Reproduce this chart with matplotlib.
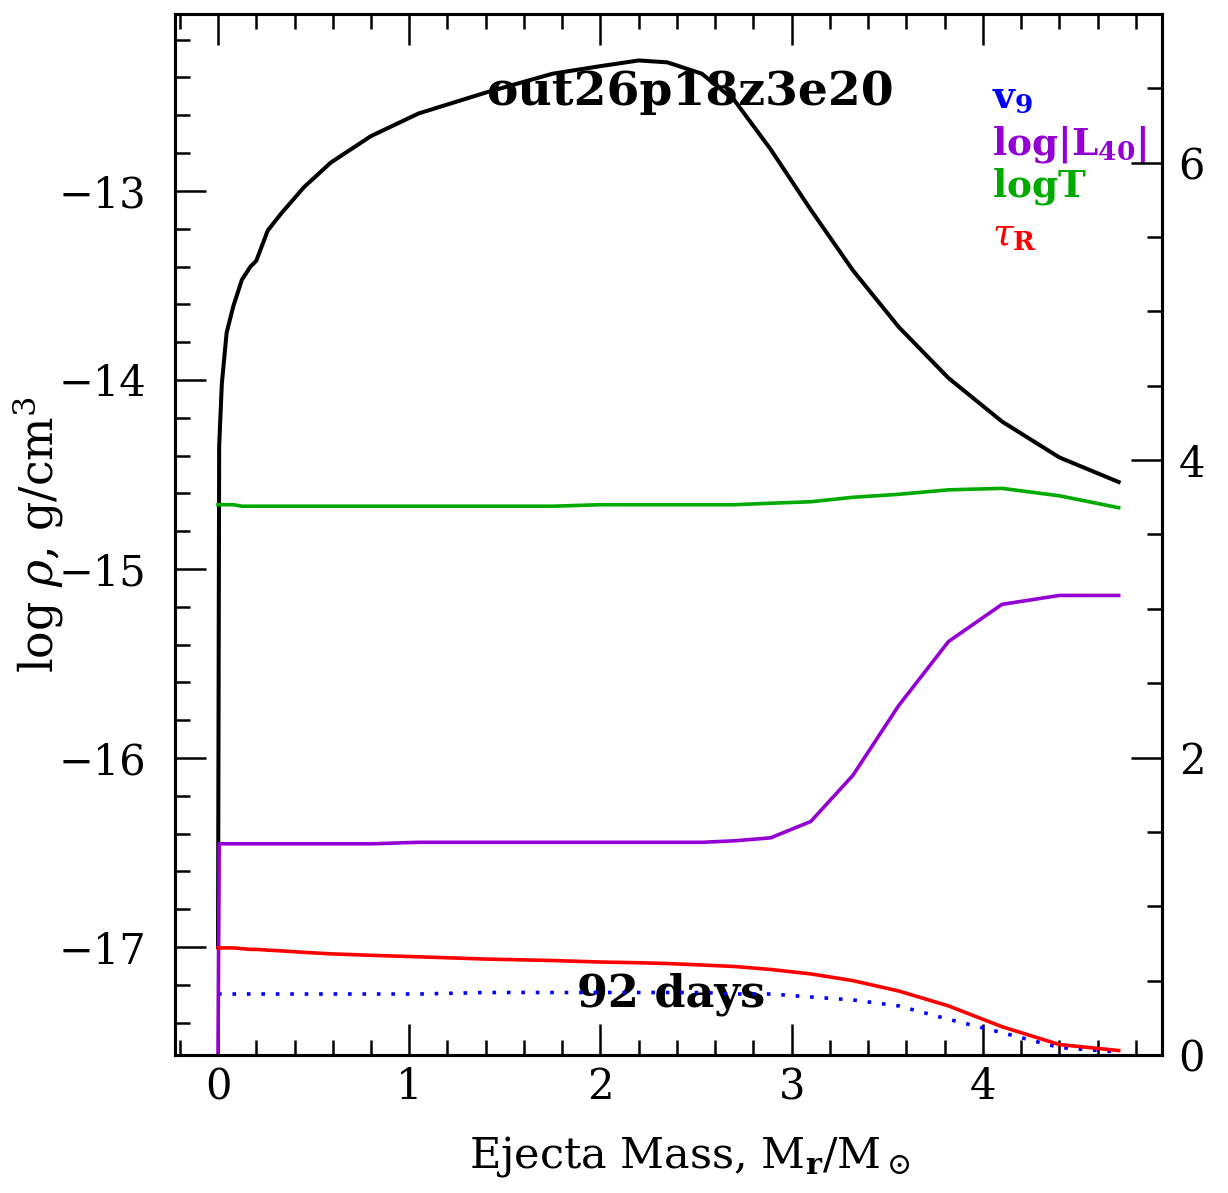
import numpy as np
from matplotlib import pyplot as plt
from matplotlib.ticker import MultipleLocator

plt.rcParams['font.family'] = 'DejaVu Serif'
plt.rcParams['mathtext.fontset'] = 'dejavuserif'

# massa da ejecao (M_sun)
massa = [0.0, 0.006, 0.02, 0.045, 0.08, 0.125, 0.17, 0.2, 0.26, 0.33, 0.45, 0.59, 0.8, 1.05,
         1.4, 1.75, 2.0, 2.2, 2.35, 2.53, 2.70, 2.89, 3.10, 3.32, 3.56, 3.82, 4.10, 4.40, 4.71]

# log rho (eixo esquerdo)
log_rho = [-17.0, -14.35, -14.02, -13.75, -13.61, -13.47, -13.40, -13.37, -13.21, -13.12, -12.98,
           -12.85, -12.71, -12.59, -12.48, -12.38, -12.34, -12.31, -12.32, -12.38, -12.52, -12.78,
           -13.10, -13.42, -13.72, -13.99, -14.22, -14.41, -14.54]

# eixo direito
v9 = [0.41, 0.41, 0.41, 0.41, 0.41, 0.41, 0.41, 0.41, 0.41, 0.41, 0.41, 0.41, 0.41, 0.41,
      0.42, 0.42, 0.42, 0.42, 0.42, 0.42, 0.41, 0.41, 0.39, 0.37, 0.33, 0.24, 0.15, 0.05, 0.02]
log_L40 = [0.0, 1.42, 1.42, 1.42, 1.42, 1.42, 1.42, 1.42, 1.42, 1.42, 1.42, 1.42, 1.42, 1.43,
           1.43, 1.43, 1.43, 1.43, 1.43, 1.43, 1.44, 1.46, 1.57, 1.88, 2.35, 2.78, 3.03, 3.09, 3.09]
log_T = [3.70, 3.70, 3.70, 3.70, 3.70, 3.69, 3.69, 3.69, 3.69, 3.69, 3.69, 3.69, 3.69, 3.69,
         3.69, 3.69, 3.70, 3.70, 3.70, 3.70, 3.70, 3.71, 3.72, 3.75, 3.77, 3.80, 3.81, 3.76, 3.68]
tau_R = [0.72, 0.72, 0.72, 0.72, 0.72, 0.715, 0.71, 0.71, 0.705, 0.70, 0.69, 0.68, 0.67, 0.66,
         0.645, 0.635, 0.625, 0.62, 0.615, 0.605, 0.595, 0.575, 0.545, 0.50, 0.43, 0.33, 0.19, 0.07, 0.03]

fig = plt.figure(figsize=(12.28, 11.93), dpi=100)
ax = fig.add_axes([0.1425, 0.1157, 0.8038, 0.8726])
ax2 = ax.twinx()

ax.plot(massa, log_rho, color='black', lw=2.9)
ax2.plot(massa, v9, color='blue', lw=2.6, linestyle=(0, (1, 3)))
ax2.plot(massa, log_L40, color='#9400d3', lw=2.6)
ax2.plot(massa, log_T, color='#00aa00', lw=2.6)
ax2.plot(massa, tau_R, color='red', lw=2.6)

ax.set_xlim(-0.225, 4.937)
ax.set_ylim(-17.571, -12.064)
ax2.set_ylim(0, 7.0)

# ticks para dentro, estilo supermongo
ax.xaxis.set_major_locator(MultipleLocator(1))
ax.xaxis.set_minor_locator(MultipleLocator(0.2))
ax.yaxis.set_major_locator(MultipleLocator(1))
ax.yaxis.set_minor_locator(MultipleLocator(0.2))
ax2.yaxis.set_major_locator(MultipleLocator(2))
ax2.yaxis.set_minor_locator(MultipleLocator(0.5))

ax.tick_params(axis='x', which='both', direction='in', top=True, bottom=True, labelsize=30, pad=8)
ax.tick_params(axis='y', which='both', direction='in', left=True, right=False, labelsize=30, pad=21)
ax2.tick_params(axis='y', which='both', direction='in', labelsize=30, pad=12)
for a in (ax, ax2):
    a.tick_params(which='major', length=22, width=1.8)
    a.tick_params(which='minor', length=11, width=1.8)
    for s in a.spines.values():
        s.set_linewidth(2.2)

ax.set_xlabel(r'Ejecta Mass, M$_\mathbf{r}$/M$_\odot$', fontsize=31)
ax.xaxis.set_label_coords(0.522, -0.076)
ax.set_ylabel(r'log $\rho$, g/cm$^3$', fontsize=33)
ax.yaxis.set_label_coords(-0.110, 0.5)

ax.text(0.522, 0.925, 'out26p18z3e20', transform=ax.transAxes, ha='center', va='center',
        fontsize=34, fontweight='bold')
ax.text(0.503, 0.058, '92 days', transform=ax.transAxes, ha='center', va='center',
        fontsize=32, fontweight='bold')

# legenda em texto colorido
ax.text(0.828, 0.910, r'$\mathbf{v_9}$', transform=ax.transAxes, color='blue', fontsize=27)
ax.text(0.828, 0.865, r'$\mathbf{log|L_{40}|}$', transform=ax.transAxes, color='#9400d3', fontsize=27)
ax.text(0.828, 0.825, r'$\mathbf{logT}$', transform=ax.transAxes, color='#00aa00', fontsize=27)
ax.text(0.828, 0.778, r'$\tau_\mathbf{R}$', transform=ax.transAxes, color='red', fontsize=27)

plt.savefig('out.png', dpi=100)
